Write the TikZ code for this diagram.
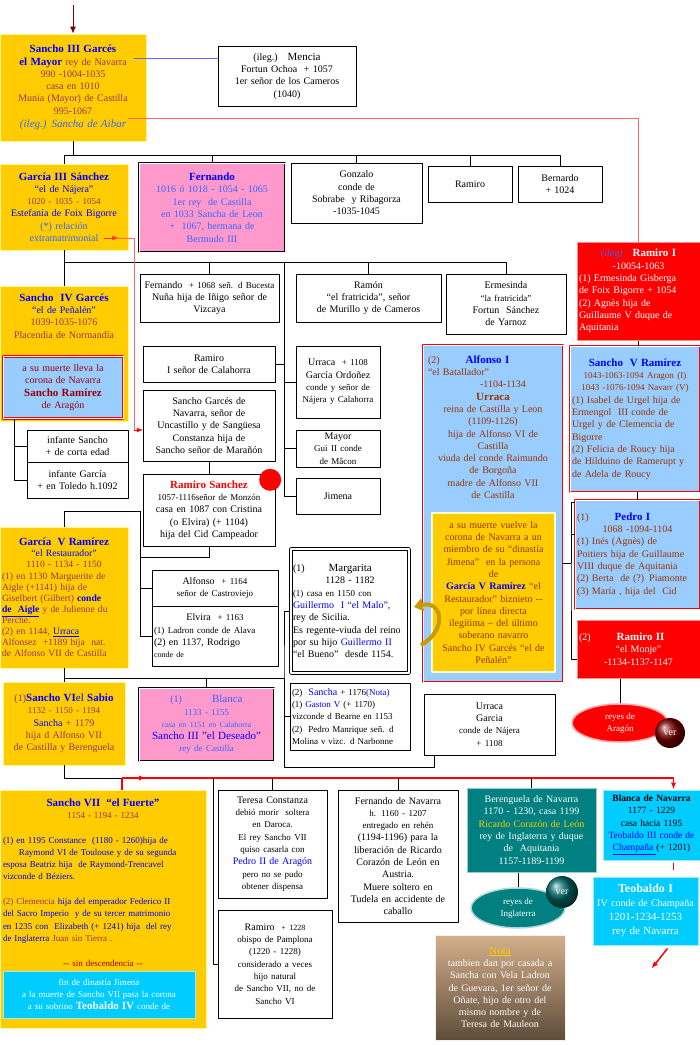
\documentclass[tikz,border=0pt]{standalone}
\usepackage{fontspec}
\setmainfont{Liberation Serif}
\usepackage{xcolor}
\usepackage{tikz}
\usetikzlibrary{arrows.meta,shapes.geometric}

\definecolor{gold}{HTML}{FFCC00}
\definecolor{nblue}{HTML}{0000FF}
\definecolor{mauve}{HTML}{993366}
\definecolor{skyb}{HTML}{3366FF}
\definecolor{brick}{HTML}{993300}
\definecolor{wine}{HTML}{990000}
\definecolor{rose}{HTML}{FF99CC}
\definecolor{pale}{HTML}{99CCFF}
\definecolor{tealb}{HTML}{008080}
\definecolor{cyanb}{HTML}{00CCFF}
\definecolor{maroonl}{HTML}{800000}
\definecolor{lineb}{HTML}{6666FF}
\definecolor{linep}{HTML}{FF6666}
\definecolor{tanb}{HTML}{D4B08C}
\definecolor{brownb}{HTML}{5E4C3A}
\definecolor{goldarr}{HTML}{CC9900}

\newcommand\szn{\fontsize{10}{12.3}\selectfont}
\newcommand\szm{\fontsize{9.5}{12.3}\selectfont}
\newcommand\szs{\fontsize{9}{12.3}\selectfont}
\newcommand\szt{\fontsize{8}{12.3}\selectfont}
\newcommand\szb{\fontsize{11}{12.3}\selectfont}
\newcommand\szg{\fontsize{9.6}{11.1}\selectfont}
\newcommand\ctr[1]{\hfill#1\hfill\null}

\begin{document}
\begin{tikzpicture}[x=1pt,y=-1pt,line join=round,
  wh/.style 2 args={text width=#1pt,minimum height=#2pt},
  wbox/.style={draw,fill=white,align=center,inner xsep=2pt,inner ysep=1pt,font=\szn},
  ybox/.style={draw=yellow!45!white,line width=0.8pt,fill=gold,align=center,inner xsep=2pt,inner ysep=1pt,text=mauve,font=\szn},
  pbox/.style={draw,line width=1pt,double=white,double distance=0.8pt,fill=rose,align=center,inner xsep=2pt,inner ysep=1pt,text=skyb,font=\szn},
  bbox/.style={draw=red,line width=0.8pt,double=white,double distance=0.8pt,fill=pale,align=left,inner xsep=2pt,inner ysep=1pt,text=brick,font=\szn},
  rbox/.style={draw=white!55!red,line width=1pt,fill=red,align=left,inner xsep=2pt,inner ysep=1pt,text=white,font=\szn},
  cbox/.style={draw=white!60!cyanb,line width=1pt,fill=cyanb,align=center,inner xsep=2pt,inner ysep=1pt,font=\szn},
  tbox/.style={draw=white!60!tealb,line width=1pt,fill=tealb,align=center,inner xsep=2pt,inner ysep=1pt,text=white,font=\szn},
  redl/.style={red,line width=1.5pt}]
\useasboundingbox (0,0) rectangle (700,1045);
\fill[white] (0,0) rectangle (700,1045);

\node[ybox,wh={142}{107}] (sancho3) at (73,87.5) {{\szb\bfseries\color{nblue}Sancho III Garcés}\\{\szb\bfseries\color{nblue}el Mayor} rey de Navarra\\990 -1004-1035\\casa en 1010\\Munia (Mayor) de Castilla\\995-1067\\[1pt]{\szb\itshape\color{skyb}(ileg.) Sancha de Aibar}};
\node[wbox,wh={134}{60}] (mencia) at (287,76) {(ileg.)\quad{\szb Mencia}\\Fortun Ochoa \ + 1057\\1er señor de los Cameros\\(1040)};
\node[ybox,wh={124}{86}] (garcia3) at (64,207) {{\szb\bfseries\color{nblue}García III Sánchez}\\{\color{nblue}“el de Nájera”}\\{\szs 1020 - 1035 - 1054}\\{\color{nblue}Estefanía de Foix Bigorre}\\{\color{skyb}(*) relación}\\{\color{skyb}extramatrimonial}\hspace{16pt}};
\node[pbox,wh={142}{89}] (fern1) at (212,207.5) {{\szb\bfseries\color{nblue}Fernando}\\1016 ó 1018 - 1054 - 1065\\1er rey \ de Castilla\\en 1033 Sancha de Leon\\+ \ 1067, hermana de\hspace{12pt}\\Bermudo III\hspace{14pt}};
\node[wbox,wh={127}{60}] (gonzalo) at (356.5,193) {Gonzalo\\conde de\\Sobrabe \ y Ribagorza\\-1035-1045};
\node[wbox,wh={80}{36}] (ramiro0) at (470,184) {Ramiro};
\node[wbox,wh={80}{36}] (bernardo) at (560,184) {Bernardo\\+ 1024};

\node[ybox,wh={124}{135}] (sancho4) at (64,353.5) {};
\node[align=center,text=mauve,font=\szn,anchor=north,text width=124pt] (sancho4t) at (64,290) {{\szb\bfseries\color{nblue}Sancho \ IV Garcés}\\{\color{nblue}“el de Peñalén”}\\1039-1035-1076\\Placendia de Normandía};
\node[bbox,align=center,text=wine,wh={116}{62}] (sr) at (63,387.5) {a su muerte lleva la\\corona de Navarra\\{\szb\bfseries Sancho Ramírez}\\de Aragón};
\node[wbox,wh={97}{32}] (infs) at (77.5,446) {infante Sancho\\+ de corta edad};
\node[wbox,wh={97}{36}] (infg) at (77.5,480) {infante García\\+ en Toledo h.1092};

\node[wbox,wh={135}{48}] (fern2) at (209.5,298) {Fernando \ {\szs + 1068 señ. d Bucesta}\\Nuña hija de Iñigo señor de\\Vizcaya};
\node[wbox,wh={141}{48}] (ramon) at (368.5,298) {Ramón\\“el fratricida”, señor\\de Murillo y de Cameros};
\node[wbox,wh={116}{60}] (ermes) at (506,304) {Ermesinda\\{\szs “la fratricida”}\\Fortun \ Sánchez\\de Yarnoz};
\node[wbox,wh={128}{36}] (ramcal) at (209,364) {Ramiro\\I señor de Calahorra};
\node[wbox,wh={128}{71}] (sgarces) at (209,425.5) {Sancho Garcés de\\Navarra, señor de\\Uncastillo y de Sangüesa\\Constanza hija de\\Sancho señor de Marañón};
\node[wbox,wh={80}{72}] (urraca1) at (338,382) {Urraca \ {\szs + 1108}\\García Ordoñez\\{\szs conde y señor de}\\{\szs Nájera y Calahorra}};
\node[wbox,wh={80}{37}] (mayor) at (338,448.5) {Mayor\\{\szs Gui II conde}\\{\szs de Mâcon}};
\node[wbox,wh={80}{36}] (jimena) at (338,496) {Jimena};
\node[wbox,wh={128}{72}] (rsanchez) at (209,510) {{\szb\bfseries\color{red}Ramiro Sanchez}\\{\szs 1057-1116señor de Monzón}\\casa en 1087 con Cristina\\(o Elvira) (+ 1104)\\hija del Cid Campeador};
\node[wbox,wh={122}{36}] (alfonso2) at (215,588) {Alfonso \ {\szs + 1164}\\{\szs señor de Castroviejo}};
\node[wbox,align=left,wh={122}{60}] (elvira) at (215,636) {\ctr{Elvira \ {\szs + 1163}}\\{\szs (1) Ladron conde de Alava}\\(2) en 1137, Rodrigo\\{\szt conde de}};

\node[ybox,align=left,font=\szg,wh={124}{141}] (garcia5) at (64,597.5) {\ctr{{\szb\bfseries\color{nblue}García \ V Ramírez}}\\\ctr{{\color{nblue}“el Restaurador”}}\\\ctr{1110 - 1134 - 1150}\\(1) en 1130 Marguerite de\\Aigle (+1141) hija de\\Giselbert (Gilbert) {\bfseries\color{nblue}conde}\\{\bfseries\color{nblue}\underline{de \ Aigle}} y de Julienne du\\Perche.\\(2) en 1144, {\color{nblue}\underline{Urraca}}\\Alfonsez \ +1189 hija \ nat.\\de Alfonso VII de Castilla};

\node[rbox,wh={119}{98}] (ramiro1) at (638.5,291) {\ctr{{\itshape\color{skyb}(ileg)}\quad{\szb\bfseries Ramiro I}}\\\ctr{-10054-1063}\\(1) Ermesinda Gisberga\\de Foix Bigorre + 1054\\(2) Agnès hija de\\Guillaume V duque de\\Aquitania};
\node[bbox,wh={126}{146}] (sancho5) at (635,419) {\ctr{{\szb\bfseries\color{nblue}Sancho \ V Ramírez}}\\\ctr{{\szs 1043-1063-1094 Aragon (I)}}\\\ctr{{\szs 1043 -1076-1094 Navarr (V)}}\\(1) Isabel de Urgel hija de\\Ermengol \ III conde de\\Urgel y de Clemencia de\\Bigorre\\(2) Felicia de Roucy hija\\de Hilduino de Ramerupt y\\de Adela de Roucy};
\node[bbox,wh={136}{337}] (alfonso1) at (493,513.5) {};
\node[align=left,text=brick,font=\szn,anchor=north,text width=130pt] (alfonso1t) at (493,352) {(2)\hspace{2.6em}{\szb\bfseries\color{nblue}Alfonso I}\\“el Batallador”\\\ctr{\hspace{20pt}-1104-1134}\\\ctr{{\szb\bfseries Urraca}}\\\ctr{reina de Castilla y Leon}\\\ctr{(1109-1126)}\\\ctr{hija de Alfonso VI de}\\\ctr{Castilla}\\\ctr{viuda del conde Raimundo}\\\ctr{de Borgoña}\\\ctr{madre de Alfonso VII}\\\ctr{de Castilla}};
\node[ybox,draw=white!80!yellow,line width=1.5pt,text=brick,wh={119}{159}] (vuelta) at (493.5,592.5) {a su muerte vuelve la\\corona de Navarra a un\\miembro de su “dinastía\\Jimena” \ en la persona\\de\\{\bfseries\color{nblue}García V Ramírez} “el\\Restaurador” biznieto -{}-\\por línea directa\\ilegítima – del último\\soberano navarro\\Sancho IV Garcés “el de\\Peñalén”};
\node[bbox,wh={121}{109}] (pedro1) at (637.5,554.5) {(1)\hspace{2.6em}{\szb\bfseries\color{nblue}Pedro I}\\\ctr{1068 -1094-1104}\\(1) Inés (Agnès) de\\Poitiers hija de Guillaume\\VIII duque de Aquitania\\(2) Berta \ de (?) Piamonte\\(3) María , hija del \ Cid};
\node[rbox,wh={119}{58}] (ramiro2) at (638.5,649) {(2)\hspace{2.6em}{\szb\bfseries Ramiro II}\\\ctr{“el Monje”}\\\ctr{-1134-1137-1147}};
\node[ellipse,fill=red,draw=white!65!red,line width=1.5pt,text=white,align=center,font=\szs,minimum width=96pt,minimum height=38pt,inner sep=0pt] (reyesar) at (620,723) {reyes de\\Aragón};
\node[circle,ball color=wine!80!black,text=white,font=\szn,minimum size=30pt,inner sep=0pt] (verar) at (670,733) {ver};

\node[wbox,align=left,line width=1.2pt,double=white,double distance=1.2pt,wh={114}{124}] (margarita) at (350,611) {(1)\hspace{2.4em}{\szb Margarita}\\\ctr{1128 - 1182}\\{\szs (1) casa en 1150 con}\\{\color{nblue}Guillermo \ I “el Malo”,}\\rey de Sicilia.\\Es regente-viuda del reino\\por su hijo {\color{nblue}Guillermo II}\\“el Bueno” \ desde 1154.};
\node[wbox,align=left,font=\szs,wh={116}{67}] (sancha) at (350,716.5) {(2) \ {\szn\color{nblue}Sancha} + 1176{\color{nblue}(Nota)}\\(1) {\color{nblue}Gaston V} (+ 1170)\\vizconde d Bearne en 1153\\(2) \ Pedro Manrique señ. d\\Molina v vizc. d Narbonne};
\node[wbox,wh={127}{61}] (urgar) at (489.5,724.5) {Urraca\\Garcia\\{\szs conde de Nájera}\\{\szs + 1108}};
\node[ybox,wh={118}{83}] (sancho6) at (64,723.5) {(1){\szb\bfseries\color{nblue}Sancho VI}{\szb\color{nblue} el }{\szb\bfseries\color{nblue}Sabio}\\{\szs 1132 - 1150 - 1194}\\{\color{nblue}Sancha} + 1179\\hija d Alfonso VII\\de Castilla y Berenguela};
\node[pbox,wh={131}{73}] (blanca1) at (206.5,724.5) {(1)\hspace{3em}{\szb Blanca}\\{\szs 1133 - 1155}\\{\szt casa en 1151 en Calahorra}\\{\szb\color{nblue}Sancho III ”el Deseado”}\\{\szs rey de Castilla}};

\node[ybox,wh={202}{238}] (sancho7) at (103,909) {};
\node[align=left,text=nblue,font=\szs,anchor=north,text width=200pt] (sancho7t) at (103,795) {\ctr{{\szb\bfseries Sancho VII \ “el Fuerte”}}\\\ctr{{\color{mauve}1154 - 1194 - 1234}}\\[12.3pt](1) en 1195 Constance \ (1180 - 1260)hija de\\\hspace*{16pt}Raymond VI de Toulouse y de su segunda\\esposa Beatriz hija \ de Raymond-Trencavel\\vizconde d Béziers.\\[12.3pt]{\color{mauve}(2) Clemencia} hija del emperador Federico II\\del Sacro Imperio \ y de su tercer matrimonio\\en 1235 con \ Elizabeth (+ 1241) hija \ del rey\\de Inglaterra {\color{mauve}Juan sin Tierra .}\\[12.3pt]\ctr{{\color{wine}-{}- sin descendencia -{}-}}};
\node[cbox,text=white,font=\szs,wh={188}{47}] (fin) at (99,994.5) {fin de dinastía Jimena\\a la muerte de Sancho VII pasa la corona\\a su sobrino {\szb\bfseries Teobaldo IV} conde de};
\node[wbox,wh={105}{108}] (teresa) at (272.5,844) {Teresa Constanza\\{\szs debió morir \ soltera}\\{\szs en Daroca.}\\{\szs El rey Sancho VII}\\{\szs quiso casarla con}\\{\color{nblue}Pedro II de Aragón}\\{\szs pero no se pudo}\\{\szs obtener dispensa}};
\node[wbox,wh={110}{108}] (ramiro3) at (275,964) {Ramiro \ {\szt + 1228}\\{\szs obispo de Pamplona}\\{\szs (1220 - 1228)}\\{\szs considerado a veces}\\{\szs hijo natural}\\{\szs de Sancho VII, no de}\\{\szs Sancho VI}};
\node[wbox,wh={116}{132}] (fnav) at (398,856) {Fernando de Navarra\\{\szs h. 1160 - 1207}\\{\szs entregado en rehén}\\(1194-1196) para la\\liberación de Ricardo\\Corazón de León en\\Austria.\\Muere soltero en\\Tudela en accidente de\\caballo};
\node[tbox,wh={125}{84}] (beren) at (531.5,830) {Berenguela de Navarra\\1170 - 1230, casa 1199\\{\color{gold}Ricardo Corazón de León}\\rey de Inglaterra y duque\\de \ Aquitania\\1157-1189-1199};
\node[cbox,font=\szm,wh={93}{70}] (blancan) at (651.5,825) {{\bfseries Blanca de Navarra}\\1177 - 1229\\casa hacia 1195\\{\color{nblue}Teobaldo III conde de}\\{\color{nblue}\underline{Champaña\ }}(+ 1201)};
\node[cbox,text=white,font=\fontsize{10}{14}\selectfont,wh={101}{68}] (teob) at (645.5,911) {{\fontsize{12}{14}\selectfont\bfseries Teobaldo I}\\IV conde de Champaña\\{\szb 1201-1234-1253}\\{\szb rey de Navarra}};
\node[ellipse,fill=tealb,draw=white!70!tealb,line width=1.5pt,text=white,align=center,font=\szs,minimum width=94pt,minimum height=40pt,inner sep=0pt] (reyesin) at (518,908) {reyes de\\Inglaterra};
\node[circle,ball color=tealb!80!black,text=white,font=\szn,minimum size=32pt,inner sep=0pt] (verin) at (562,892) {ver};
\node[top color=tanb,bottom color=brownb,draw=white!80!tanb,align=center,text=white,font=\szn,inner xsep=2pt,wh={126}{105}] (nota) at (500,987.5) {{\szb\color{gold}\underline{Nota}}\\tambien dan por casada a\\Sancha con Vela Ladron\\de Guevara, 1er señor de\\Oñate, hijo de otro del\\mismo nombre y de\\Teresa de Mauleon};

\fill[red] ([xshift=-5pt,yshift=-6pt]rsanchez.north east) circle (11pt);

\coordinate (bus1) at (0,155);
\coordinate (bus2) at (284,262);
\coordinate (tr) at (140,511);
\coordinate (bus5) at (284,678);
\coordinate (bus6) at (122,778);
\coordinate (sp5) at (571,563);
\coordinate (ug) at ([xshift=-55pt]urgar.south);
\coordinate (tw) at ([xshift=-5pt]teresa.west);
\coordinate (bn) at ([xshift=22pt]blancan.north);

\draw[maroonl,line width=1pt,-{Latex[length=7pt,width=6pt]}] ([yshift=29pt]sancho3.north) -- (sancho3.north);
\draw[lineb] ([xshift=-12pt,yshift=29.5pt]sancho3.east) -- ([yshift=18pt]mencia.west);
\draw[linep] ([xshift=-18pt,yshift=-30.5pt]sancho3.east) -| (ramiro1.north);
\draw (sancho3.south) -- (sancho3.south |- bus1);
\draw (garcia3.north) |- (bernardo.north |- bus1) -- (bernardo.north);
\draw (fern1.north) -- (fern1.north |- bus1);
\draw (gonzalo.north) -- (gonzalo.north |- bus1);
\draw (ramiro0.north) -- (ramiro0.north |- bus1);

\draw (garcia3.south) -- (sancho4.north);
\draw (garcia3.south |- bus2) -- (ermes.north |- bus2) -- (ermes.north);
\draw (fern2.north) -- (fern2.north |- bus2);
\draw (ramon.north) -- (ramon.north |- bus2);
\draw (bus2) |- (jimena.west);
\draw (ramcal.east) -- (ramcal.east -| bus2);
\draw (urraca1.west) -- (urraca1.west -| bus2);
\draw (mayor.west) -- (mayor.west -| bus2);
\draw ([xshift=-49pt]sr.south) |- (infg.west);
\draw ([xshift=-49pt]sr.south) |- (infs.west);

\draw[red!80,-{Latex[length=6pt]}] ([xshift=-24pt,yshift=-31pt]garcia3.east) -- ++(14,0);
\draw[linep] ([xshift=-10pt,yshift=-31pt]garcia3.east) -| ([xshift=-9pt,yshift=-4.5pt]sgarces.west);
\draw[red,-{Latex[length=6pt]}] ([xshift=-9pt,yshift=-4.5pt]sgarces.west) -- ([yshift=-4.5pt]sgarces.west);

\draw (sgarces.south) -- (rsanchez.north);
\draw (garcia5.north) |- (tr) |- (elvira.west);
\draw (alfonso2.west) -| (tr);
\draw (rsanchez.south) -- ++(0,11) -| (tr);

\draw (garcia5.south) -- (garcia5.south |- sancho6.north);
\draw (garcia5.south |- bus5) -- (bus5);
\draw (blanca1.north) -- (blanca1.north |- bus5);
\draw (margarita.west) -| (bus5) |- (sancha.west);
\draw (bus5) |- (ug |- 0,767) -- (ug);

\draw (ramiro1.south) -- (ramiro1.south |- sancho5.north);
\draw (pedro1.north) -- (pedro1.north |- sancho5.south);
\draw (alfonso1.east |- sp5) -- (sp5);
\draw ([yshift=-3pt]pedro1.north west) -| (sp5) |- ([yshift=-10pt]ramiro2.west);
\draw ([yshift=-35pt]pedro1.north west) -| (sp5);
\draw (reyesar.north) -- (reyesar.north |- ramiro2.south);
\draw[goldarr,line width=4pt,-{Triangle[length=9pt,width=13pt]}] (421,645) .. controls (448,630) and (442,600) .. (414,607);

\draw (sancho6.south) |- (bus6);
\draw (teresa.north) -- (teresa.north |- bus6);
\draw (fnav.north) -- (fnav.north |- bus6);
\draw (beren.north) -- (beren.north |- bus6);
\draw (ramiro3.west) -| (tw |- bus6);
\draw[redl] (bus6) -- (bus6 |- sancho7.north);
\draw[redl,-{Latex[length=7pt]}] (bus6) -| (bn);
\draw[redl,-{Latex[length=7pt]}] (bus6) -- ++(24,0);
\draw (reyesin.north) -- (reyesin.north |- beren.south);
\draw[redl,shorten <=2pt,shorten >=7pt] (bn |- blancan.south) -- (bn |- teob.north);
\draw[redl,-{Latex[length=7pt]}] ([xshift=22pt,yshift=-3pt]teob.south) -- ++(-16,20);
\end{tikzpicture}
\end{document}
